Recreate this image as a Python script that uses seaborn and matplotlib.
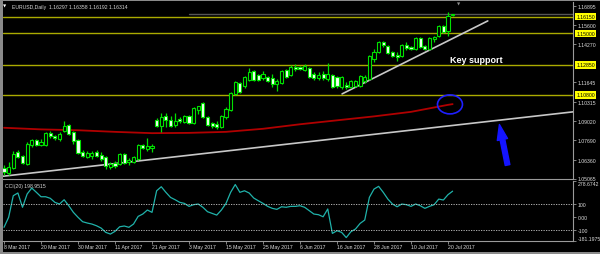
import numpy as np
import pandas as pd
import matplotlib
matplotlib.use("Agg")
import matplotlib.pyplot as plt
import matplotlib.transforms as mtransforms
from matplotlib.patches import Ellipse, FancyArrowPatch, Rectangle
import seaborn as sns

# ---------------- data ----------------
opens = [1.0580, 1.0546, 1.0580, 1.0690, 1.0662, 1.0607, 1.0737, 1.0772, 1.0737, 1.0737,
         1.0819, 1.0799, 1.0778, 1.0833, 1.0874, 1.0826, 1.0772, 1.0690, 1.0655, 1.0662,
         1.0690, 1.0669, 1.0655, 1.0587, 1.0614, 1.0607, 1.0676, 1.0621, 1.0621, 1.0642,
         1.0737, 1.0710, 1.0717, 1.0908, 1.0867, 1.0936, 1.0908, 1.0874, 1.0915, 1.0895,
         1.0936, 1.0888, 1.0977, 1.1025, 1.0929, 1.0888, 1.0881, 1.0861, 1.0929, 1.0977,
         1.1086, 1.1161, 1.1141, 1.1182, 1.1244, 1.1216, 1.1196, 1.1202, 1.1196, 1.1155,
         1.1161, 1.1250, 1.1216, 1.1271, 1.1271, 1.1250, 1.1264, 1.1223, 1.1196, 1.1223,
         1.1189, 1.1216, 1.1202, 1.1134, 1.1148, 1.1134, 1.1141, 1.1141, 1.1175, 1.1189,
         1.1326, 1.1374, 1.1442, 1.1415, 1.1374, 1.1353, 1.1346, 1.1421, 1.1408, 1.1394,
         1.1469, 1.1415, 1.1394, 1.1462, 1.1483, 1.1551, 1.1517, 1.16297]
highs = [1.0601, 1.0621, 1.0696, 1.0703, 1.0669, 1.0758, 1.0778, 1.0778, 1.0778, 1.0826,
         1.0833, 1.0806, 1.0826, 1.0902, 1.0881, 1.0833, 1.0778, 1.0703, 1.0696, 1.0696,
         1.0703, 1.0690, 1.0662, 1.0621, 1.0628, 1.0683, 1.0683, 1.0648, 1.0662, 1.0744,
         1.0744, 1.0785, 1.0744, 1.0922, 1.0956, 1.0956, 1.0936, 1.0956, 1.0929, 1.0943,
         1.0943, 1.0997, 1.1004, 1.1032, 1.0936, 1.0895, 1.0902, 1.0943, 1.0997, 1.1100,
         1.1175, 1.1168, 1.1209, 1.1264, 1.1250, 1.1223, 1.1244, 1.1209, 1.1223, 1.1189,
         1.1250, 1.1257, 1.1285, 1.1291, 1.1278, 1.1291, 1.1271, 1.1237, 1.1237, 1.1244,
         1.1298, 1.1223, 1.1209, 1.1209, 1.1168, 1.1182, 1.1182, 1.1216, 1.1216, 1.1353,
         1.1394, 1.1449, 1.1449, 1.1421, 1.1380, 1.1374, 1.1428, 1.1442, 1.1415, 1.1476,
         1.1476, 1.1421, 1.1476, 1.1483, 1.1558, 1.1558, 1.1647, 1.16358]
lows = [1.0532, 1.0532, 1.0573, 1.0648, 1.0607, 1.0601, 1.0724, 1.0731, 1.0731, 1.0731,
        1.0785, 1.0772, 1.0765, 1.0826, 1.0806, 1.0744, 1.0676, 1.0655, 1.0648, 1.0642,
        1.0655, 1.0628, 1.0573, 1.0573, 1.0580, 1.0601, 1.0607, 1.0601, 1.0614, 1.0635,
        1.0710, 1.0696, 1.0690, 1.0861, 1.0826, 1.0861, 1.0861, 1.0861, 1.0888, 1.0888,
        1.0881, 1.0881, 1.0949, 1.0922, 1.0867, 1.0854, 1.0847, 1.0854, 1.0915, 1.0970,
        1.1079, 1.1093, 1.1127, 1.1175, 1.1175, 1.1175, 1.1182, 1.1168, 1.1134, 1.1107,
        1.1155, 1.1196, 1.1209, 1.1244, 1.1250, 1.1244, 1.1196, 1.1182, 1.1182, 1.1182,
        1.1175, 1.1127, 1.1127, 1.1120, 1.1120, 1.1127, 1.1134, 1.1134, 1.1161, 1.1182,
        1.1305, 1.1367, 1.1408, 1.1360, 1.1339, 1.1312, 1.1339, 1.1387, 1.1387, 1.1387,
        1.1401, 1.1387, 1.1387, 1.1442, 1.1476, 1.1503, 1.1483, 1.16192]
closes = [1.0553, 1.0587, 1.0676, 1.0655, 1.0614, 1.0744, 1.0772, 1.0737, 1.0758, 1.0819,
          1.0799, 1.0785, 1.0813, 1.0867, 1.0813, 1.0765, 1.0683, 1.0662, 1.0683, 1.0683,
          1.0662, 1.0642, 1.0594, 1.0607, 1.0594, 1.0676, 1.0614, 1.0635, 1.0655, 1.0737,
          1.0717, 1.0731, 1.0731, 1.0867, 1.0929, 1.0908, 1.0867, 1.0902, 1.0902, 1.0936,
          1.0888, 1.0990, 1.1004, 1.0929, 1.0874, 1.0867, 1.0861, 1.0936, 1.0984, 1.1093,
          1.1168, 1.1100, 1.1202, 1.1237, 1.1182, 1.1182, 1.1223, 1.1175, 1.1155, 1.1175,
          1.1244, 1.1202, 1.1271, 1.1257, 1.1257, 1.1278, 1.1202, 1.1196, 1.1216, 1.1196,
          1.1223, 1.1134, 1.1141, 1.1202, 1.1134, 1.1175, 1.1175, 1.1209, 1.1202, 1.1346,
          1.1374, 1.1442, 1.1421, 1.1367, 1.1346, 1.1339, 1.1421, 1.1401, 1.1394, 1.1469,
          1.1408, 1.1394, 1.1469, 1.1476, 1.1551, 1.1510, 1.1620, 1.16314]
cci_values = [-79, -2, 164, 185, 75, 177, 223, 190, 156, 156,
              144, 113, 100, 133, 87, 36, -2, -36, -46, -54,
              -67, -85, -118, -131, -110, -75, -69, -79, -54, 5,
              23, 54, 36, 202, 233, 190, 151, 133, 113, 105,
              82, 95, 100, 75, 41, 28, 15, 54, 105, 190,
              250, 190, 202, 185, 146, 125, 105, 82, 67, 59,
              79, 75, 82, 82, 87, 75, 49, 23, 18, 2,
              62, -126, -105, -118, -158, -113, -92, -49, -23, 151,
              215, 236, 190, 138, 100, 79, 100, 95, 82, 100,
              87, 67, 82, 95, 138, 131, 172, 198.9515]
ma_bars = [0, 8, 16, 24, 32, 40, 48, 56, 64, 72, 80, 88, 96, 97]
ma_values = [1.0854, 1.0843, 1.0837, 1.0826, 1.0817, 1.0819, 1.0826, 1.0847,
             1.0878, 1.0905, 1.0932, 1.0963, 1.1011, 1.1016]
date_bars = [0, 8, 16, 24, 32, 40, 48, 56, 64, 72, 80, 88, 96]
date_labels = ["8 Mar 2017", "20 Mar 2017", "30 Mar 2017", "11 Apr 2017", "21 Apr 2017",
               "3 May 2017", "15 May 2017", "25 May 2017", "6 Jun 2017", "16 Jun 2017",
               "28 Jun 2017", "10 Jul 2017", "20 Jul 2017"]
level_prices = [1.16150, 1.15000, 1.12850, 1.10800]
price_ticks = [1.16895, 1.15600, 1.14270, 1.11645, 1.10315, 1.09020, 1.07690, 1.06360, 1.05065]
cci_ticks = [278.6742, 100, 0, -100, -181.1975]
cci_tick_labels = ["278.6742", "100", "0.00", "-100", "-181.1975"]
long_trend_bars = [-0.22, 123.03]
long_trend_prices = [1.0522, 1.0963]
key_trend_bars = [73.1, 104.6]
key_trend_prices = [1.1086, 1.1586]
bid_price = 1.16314
title_text = "EURUSD,Daily  1.16297 1.16358 1.16192 1.16314"
cci_title = "CCI(20) 198.9515"

# ---------------- style ----------------
sns.set_theme(style="dark", rc={"axes.facecolor": "black", "figure.facecolor": "black",
                                "savefig.facecolor": "black"})
plt.rcParams["font.family"] = ["Liberation Sans", "DejaVu Sans"]

W, H = 600, 255
fig = plt.figure(figsize=(6.0, 2.55), dpi=100)
fig.patch.set_facecolor("black")

def fx(px):
    return px / W

def fy(py):
    return 1 - py / H

ax = fig.add_axes([fx(3), fy(179.5), fx(570), 176.5 / H])
ax2 = fig.add_axes([fx(3), fy(241.6), fx(570), 59.8 / H])
for a in (ax, ax2):
    a.set_facecolor("black")
    a.grid(False)
    for s in a.spines.values():
        s.set_color("#9a9a9a")
        s.set_linewidth(0.8)
    a.spines["left"].set_visible(False)
    a.spines["top"].set_visible(False)

GREEN = "#00e000"
n = len(opens)
bars = np.arange(n)
df = pd.DataFrame({"bar": bars, "open": opens, "high": highs, "low": lows,
                   "close": closes, "cci": cci_values})

# horizontal levels
for lv in level_prices:
    ax.axhline(lv, color="#aaaa00", lw=1.0, zorder=1)
ax.plot([40, 123.03], [bid_price, bid_price], color="#555555", lw=1.0, zorder=1)

# moving average & trendlines
sns.lineplot(x=ma_bars, y=ma_values, ax=ax, color="#b00000", lw=1.3, zorder=2)
sns.lineplot(x=long_trend_bars, y=long_trend_prices, ax=ax, color="#c8c8c8", lw=1.2, zorder=2)
sns.lineplot(x=key_trend_bars, y=key_trend_prices, ax=ax, color="#c8c8c8", lw=1.2, zorder=2)

# candles
up = df["close"] >= df["open"]
ax.vlines(df["bar"], df["low"], df["high"], color=GREEN, lw=0.9, zorder=3)
body_lo = np.minimum(df["open"], df["close"])
body_h = np.abs(df["close"] - df["open"])
ax.bar(df["bar"], body_h, bottom=body_lo, width=0.68,
       color=np.where(up, "black", "#f4fff4"), edgecolor=GREEN, linewidth=0.8, zorder=4)

ax.set_xlim(-0.22, 123.03)
ax.set_ylim(1.05082, 1.17155)

# annotations
ax.text(96.4, 1.1319, "Key support", color="white", fontsize=6.5, fontweight="bold",
        ha="left", va="center", zorder=6)
ax.add_patch(Ellipse((96.43, 1.1014), 5.4, 0.0130, fill=False, ec="#1f1fff", lw=1.2, zorder=6))
arr = FancyArrowPatch((109.0, 1.0580), (107.0, 1.0895),
                      arrowstyle="simple,head_width=0.75,head_length=1.1,tail_width=0.34",
                      mutation_scale=10, color="#1414ff", zorder=6)
ax.add_patch(arr)

# price axis
ax.yaxis.tick_right()
ax.set_yticks(price_ticks)
ax.set_yticklabels([f"{v:.5f}" for v in price_ticks])
ax.tick_params(axis="y", colors="#9a9a9a", labelcolor="#dcdcdc", labelsize=3.7,
               length=2, width=0.6, pad=1.5, left=False, right=True)
ax.set_xticks([])
ax.set_xlabel("")
ax.set_ylabel("")
trans = mtransforms.blended_transform_factory(ax.transAxes, ax.transData)
for lv in level_prices:
    ax.text(1.0 + 3.5 / 570, lv, f"{lv:.5f}", transform=trans, fontsize=3.7, color="black",
            ha="left", va="center", clip_on=False,
            bbox=dict(boxstyle="square,pad=0.25", fc="#ffff00", ec="none"))

# CCI panel
sns.lineplot(data=df, x="bar", y="cci", ax=ax2, color="#20b2aa", lw=0.9)
for lv in (100, -100):
    ax2.axhline(lv, color="#c8c8c8", lw=0.6, ls=(0, (1.5, 1.5)))
ax2.set_xlim(-0.22, 123.03)
ax2.set_ylim(-181.1975, 278.6742)
ax2.yaxis.tick_right()
ax2.set_yticks(cci_ticks)
ax2.set_yticklabels(cci_tick_labels)
ax2.tick_params(axis="y", colors="#9a9a9a", labelcolor="#dcdcdc", labelsize=3.7,
                length=2, width=0.6, pad=1.5, left=False, right=True)
yl = ax2.get_yticklabels()
yl[0].set_va("top")
yl[-1].set_va("bottom")
ax2.set_xticks(date_bars)
ax2.set_xticklabels(date_labels)
ax2.tick_params(axis="x", colors="#9a9a9a", labelcolor="#dcdcdc", labelsize=3.7,
                length=2, width=0.6, pad=0.8, bottom=True)
for lab in ax2.get_xticklabels():
    lab.set_ha("left")
ax2.set_xlabel("")
ax2.set_ylabel("")

# texts
fig.text(fx(3), fy(7), "\u25BC", color="white", fontsize=3, va="center", ha="left",
         family=["DejaVu Sans"])
fig.text(fx(12), fy(7), title_text, color="#d8d8d8", fontsize=3.7, va="center", ha="left")
fig.text(fx(5), fy(187), cci_title, color="#d8d8d8", fontsize=3.7, va="center", ha="left")
fig.text(fx(459), fy(4.5), "\u25BC", color="#909090", fontsize=3, va="center", ha="center",
         family=["DejaVu Sans"])

# frame
fig.add_artist(Rectangle((0, 0), fx(2.5), 1, transform=fig.transFigure, color="#8a8a8a", lw=0))
fig.add_artist(Rectangle((0, fy(2)), 1, 2 / H, transform=fig.transFigure, color="#8a8a8a", lw=0))
fig.add_artist(Rectangle((0, 0), 1, 2.5 / H, transform=fig.transFigure, color="#8a8a8a", lw=0))

fig.savefig("out.png", dpi=100, facecolor="black")
